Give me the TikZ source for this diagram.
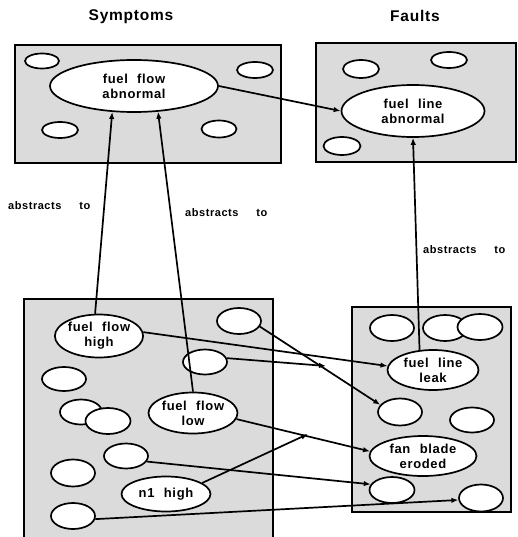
\documentclass[tikz,border=0pt]{standalone}
\usepackage{fontspec}
\setmainfont{Liberation Sans}[LetterSpace=5,WordSpace=2.2]
\usetikzlibrary{shapes.geometric,arrows.meta}
\begin{document}
\begin{tikzpicture}[x=1pt,y=-1pt,
  boxfill/.style={fill=black!14},
  box/.style={draw, line width=1.5pt, boxfill},
  blob/.style={ellipse, draw, fill=white, line width=1.7pt, inner sep=0pt},
  sz/.style 2 args={minimum width=#1pt, minimum height=#2pt},
  lab/.style={font=\fontsize{13}{15}\selectfont\bfseries, align=center},
  head/.style={font=\fontsize{15.5}{17}\selectfont\bfseries},
  note/.style={font=\fontsize{11}{13}\selectfont\bfseries, anchor=west, inner sep=0pt},
  arr/.style={-{Latex[length=7pt,width=5.5pt]}, line width=1.7pt}]
\useasboundingbox (0,0) rectangle (517,537);
% boxes
\draw[box] (15,45) rectangle (281,163);
\draw[box] (316,43) rectangle (516,162);
\fill[boxfill] (24,299) rectangle (273,540);
\draw[line width=1.5pt] (24,540) -- (24,299) -- (273,299) -- (273,540);
\draw[box] (352,307) rectangle (511,512);
% headings
\node[head] (hs) at (131,17) {Symptoms};
\node[head] (hf) at (415,16) {Faults};
% top-left
\node[blob, sz={34}{15}] (t1) at (42,61) {};
\node[blob, sz={36}{16}] (t2) at (255,70) {};
\node[blob, sz={36}{16}] (t3) at (60,130) {};
\node[blob, sz={35}{17}] (t4) at (219,129) {};
\node[blob, sz={168}{52}, lab] (ffa) at (134,86) {fuel flow\\abnormal};
% top-right
\node[blob, sz={36}{18}] (r1) at (361,69) {};
\node[blob, sz={36}{16}] (r2) at (449,60) {};
\node[blob, sz={37}{18}] (r3) at (342,146) {};
\node[blob, sz={143}{52}, lab] (fla) at (413,111) {fuel line\\abnormal};
% bottom-left
\node[blob, sz={78}{43}, lab] (ffh) at (99,336) {fuel flow\\high};
\node[blob, sz={44}{26}] (s1) at (239,321) {};
\node[blob, sz={44}{25}] (s2) at (205,362) {};
\node[blob, sz={44}{24}] (s3) at (64,379) {};
\node[blob, sz={42}{25}] (s4) at (81,412) {};
\node[blob, sz={45}{26}] (s5) at (108,421) {};
\node[blob, sz={89}{41}, lab] (ffl) at (193,413) {fuel flow\\low};
\node[blob, sz={44}{25}] (s6) at (126,456) {};
\node[blob, sz={44}{27}] (s7) at (73,473) {};
\node[blob, sz={89}{35}, lab] (n1) at (166,494) {n1 high};
\node[blob, sz={44}{26}] (s8) at (73,516) {};
% bottom-right
\node[blob, sz={44}{26}] (b1) at (392,328) {};
\node[blob, sz={44}{26}] (b2) at (445,328) {};
\node[blob, sz={45}{26}] (b3) at (480,327) {};
\node[blob, sz={91}{40}, lab] (fll) at (433,370) {fuel line\\leak};
\node[blob, sz={44}{27}] (b4) at (400,412) {};
\node[blob, sz={44}{25}] (b5) at (472,420) {};
\node[blob, sz={107}{40}, lab] (fbe) at (423,456) {fan blade\\eroded};
\node[blob, sz={45}{26}] (b6) at (392,490) {};
\node[blob, sz={44}{27}] (b7) at (481,498) {};
% labels
\node[note] (a1) at (8,206) {abstracts\hspace{10pt} to};
\node[note] (a2) at (185,213) {abstracts\hspace{10pt} to};
\node[note] (a3) at (423,250) {abstracts\hspace{10pt} to};
% free ends
\coordinate (e1) at (326,366);
\coordinate (e2) at (308,434);
% connectors
\draw[arr] (ffa.east) -- (fla.west);
\draw[arr] (ffh.100) -- (ffa.230);
\draw[arr] (ffl.north) -- (ffa.-47);
\draw[arr] (fll.124) -- (fla.south);
\draw[arr] (ffh.5) -- (fll.175);
\draw[arr] (s2.10) -- (e1);
\draw[arr] (s1.-15) -- (b4.160);
\draw[arr] (ffl.-8) -- (fbe.175);
\draw[arr] (n1.17) -- (e2);
\draw[arr] (s6.-15) -- (b6.165);
\draw[arr] (s8.-8) -- (b7.185);
\end{tikzpicture}
\end{document}
